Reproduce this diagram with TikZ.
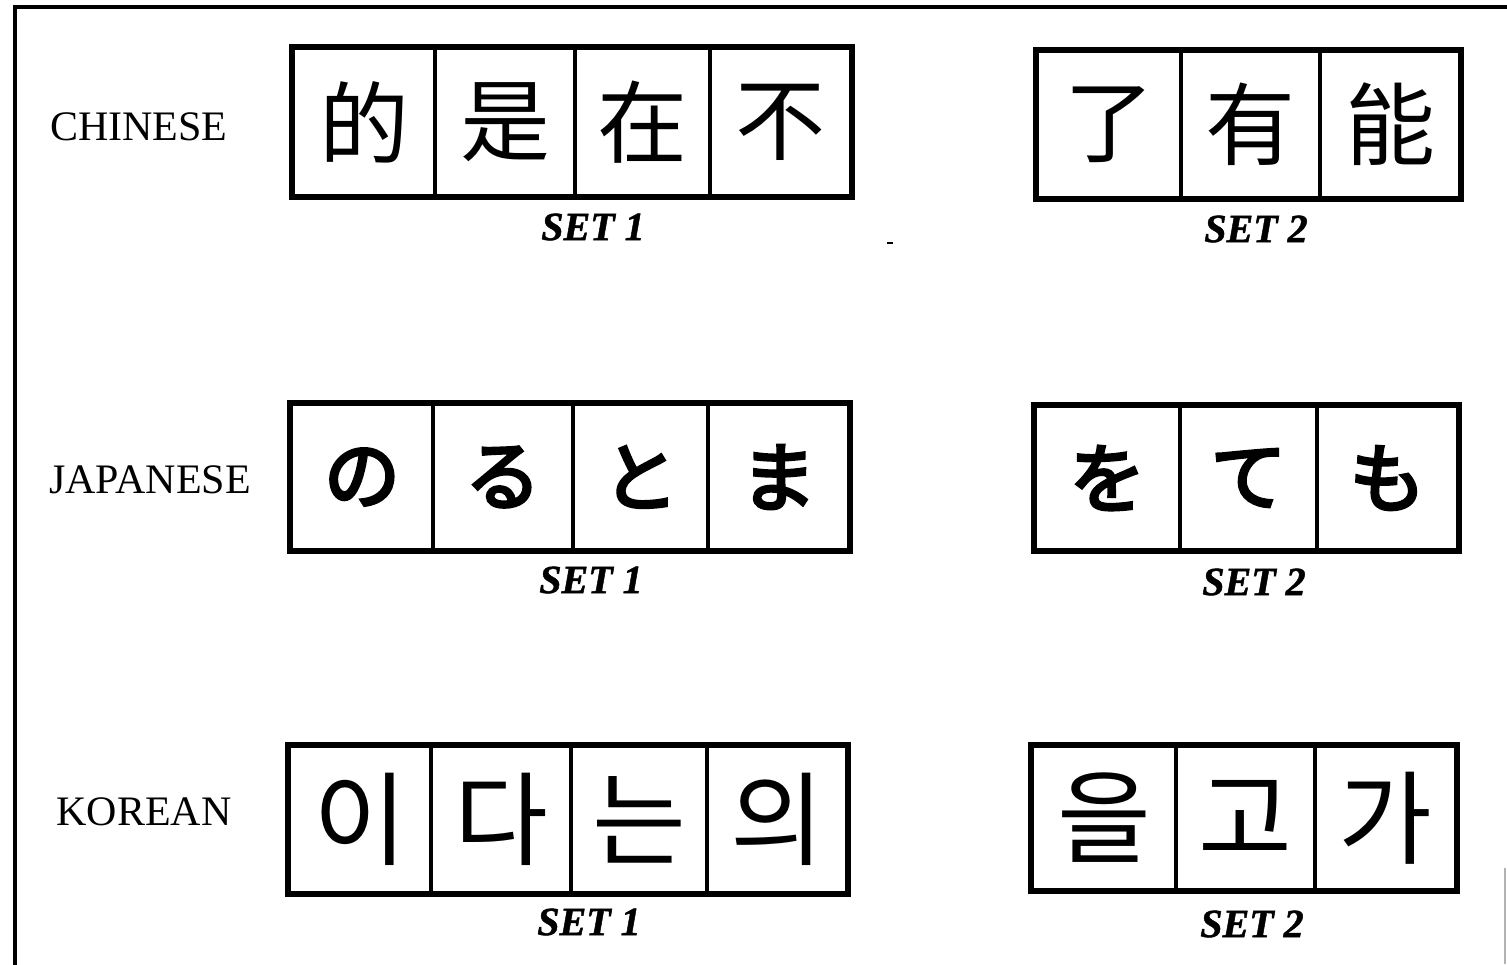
\documentclass[tikz,border=0pt]{standalone}
\usepackage{fontspec}
\setmainfont{Liberation Serif}
\newfontfamily\setlabelfont[BoldItalicFeatures={FakeBold=1.2}]{Liberation Serif}
\newfontfamily\zhfont{Noto Sans CJK SC}
\newfontfamily\jafont[FakeBold=4]{Noto Sans CJK JP}
\newfontfamily\kofont{Noto Sans CJK KR}
\tikzset{
  cellbox/.style={draw, line width=1.8pt, inner sep=0pt, anchor=center},
  outerbox/.style={draw, line width=2.4pt},
  rowlabel/.style={font=\fontsize{21}{21}\selectfont, inner sep=0pt},
  setlabel/.style={font=\setlabelfont\fontsize{20}{20}\selectfont\bfseries\itshape, inner sep=0pt},
  zhchar/.style={font=\zhfont\fontsize{45}{45}\selectfont},
  jachar/.style={font=\jafont\fontsize{38}{38}\selectfont},
  kochar/.style={font=\kofont\fontsize{51}{51}\selectfont},
}
% #1 name, #2 x1, #3 x2, #4 y1, #5 y2, #6 style, #7 text
\newcommand\mkcell[7]{%
  \node[cellbox, #6, minimum width={(#3-#2)*0.5pt}, minimum height={(#5-#4)*0.5pt}]
    (#1) at ({(#2+#3)/2},{(#4+#5)/2}) {#7};}
\begin{document}
\begin{tikzpicture}[x=0.5pt, y=-0.5pt]
\useasboundingbox (0,0) rectangle (1507,964);
% outer frame
\coordinate (fbl) at (15,975);
\coordinate (ftl) at (15,7);
\coordinate (ftr) at (1510,7);
\draw[line width=1.8pt] (fbl) -- (ftl) -- (ftr);
\coordinate (rb1) at (1505,868);
\coordinate (rb2) at (1505,964);
\draw[gray!60, line width=0.6pt] (rb1) -- (rb2);
\coordinate (spk1) at (887,243);
\coordinate (spk2) at (893,243);
\draw[line width=1.4pt] (spk1) -- (spk2);

% row labels
\node[rowlabel] (lzh) at (139,127) {CHINESE};
\node[rowlabel] (lja) at (150,480) {JAPANESE};
\node[rowlabel] (lko) at (144,812) {KOREAN};

% Chinese set 1
\mkcell{c11}{293}{435}{48}{196}{zhchar}{的}
\mkcell{c12}{435}{575}{48}{196}{zhchar}{是}
\mkcell{c13}{575}{710}{48}{196}{zhchar}{在}
\mkcell{c14}{710}{851}{48}{196}{zhchar}{不}
\draw[outerbox] (c11.north west) rectangle (c14.south east);
% Chinese set 2
\mkcell{c21}{1037}{1181}{51}{198}{zhchar}{了}
\mkcell{c22}{1181}{1320}{51}{198}{zhchar}{有}
\mkcell{c23}{1320}{1460}{51}{198}{zhchar}{能}
\draw[outerbox] (c21.north west) rectangle (c23.south east);

% Japanese set 1
\mkcell{j11}{291}{433}{404}{550}{jachar}{の}
\mkcell{j12}{433}{573}{404}{550}{jachar}{る}
\mkcell{j13}{573}{708}{404}{550}{jachar}{と}
\mkcell{j14}{708}{849}{404}{550}{jachar}{ま}
\draw[outerbox] (j11.north west) rectangle (j14.south east);
% Japanese set 2
\mkcell{j21}{1035}{1180}{406}{550}{jachar}{を}
\mkcell{j22}{1180}{1317}{406}{550}{jachar}{て}
\mkcell{j23}{1317}{1458}{406}{550}{jachar}{も}
\draw[outerbox] (j21.north west) rectangle (j23.south east);

% Korean set 1
\mkcell{k11}{289}{431}{746}{893}{kochar}{이}
\mkcell{k12}{431}{571}{746}{893}{kochar}{다}
\mkcell{k13}{571}{707}{746}{893}{kochar}{는}
\mkcell{k14}{707}{847}{746}{893}{kochar}{의}
\draw[outerbox] (k11.north west) rectangle (k14.south east);
% Korean set 2
\mkcell{k21}{1032}{1176}{746}{890}{kochar}{을}
\mkcell{k22}{1176}{1315}{746}{890}{kochar}{고}
\mkcell{k23}{1315}{1456}{746}{890}{kochar}{가}
\draw[outerbox] (k21.north west) rectangle (k23.south east);

% set labels
\node[setlabel] (sz1) at (593,227) {SET 1};
\node[setlabel] (sz2) at (1256,229) {SET 2};
\node[setlabel] (sj1) at (591,580) {SET 1};
\node[setlabel] (sj2) at (1254,582) {SET 2};
\node[setlabel] (sk1) at (589,922) {SET 1};
\node[setlabel] (sk2) at (1252,924) {SET 2};
\end{tikzpicture}
\end{document}
